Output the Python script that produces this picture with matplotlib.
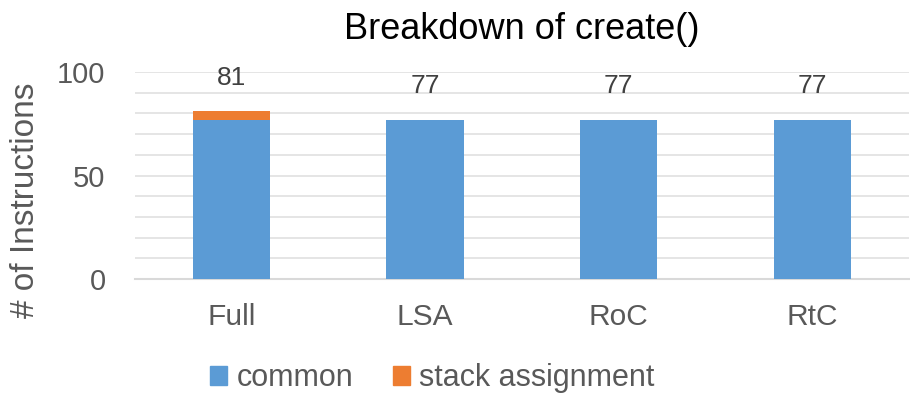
import matplotlib
matplotlib.use("Agg")
import matplotlib.pyplot as plt
from matplotlib.patches import Patch

# per-variant instruction counts for create()
variants = ["Full", "LSA", "RoC", "RtC"]
common = [77, 77, 77, 77]
stack_assignment = [4, 0, 0, 0]

blue = "#5B9BD5"
orange = "#ED7D31"
grey_text = "#595959"

plt.rcParams["font.family"] = ["Liberation Sans", "DejaVu Sans"]

fig = plt.figure(figsize=(9.1, 3.94), dpi=100)
ax = fig.add_axes([0.148, 0.292, 0.851, 0.525])

x = range(len(variants))
ax.bar(x, common, width=0.4, color=blue, zorder=3)
ax.bar(x, stack_assignment, width=0.4, bottom=common, color=orange, zorder=3)

totals = [c + s for c, s in zip(common, stack_assignment)]
for i, t in enumerate(totals):
    ax.annotate(str(t), (i, t), xytext=(0, 24), textcoords="offset points",
                ha="center", va="center", fontsize=19, color="#404040",
                annotation_clip=False)

ax.set_xlim(-0.5, len(variants) - 0.5)
ax.set_ylim(0, 100)
ax.set_yticks([0, 50, 100])
ax.set_yticks(range(0, 101, 10), minor=True)
ax.grid(axis="y", which="both", color="#E3E3E3", linewidth=1.3, zorder=0)
ax.set_xticks(list(x))
ax.set_xticklabels(variants)
ax.tick_params(axis="both", which="both", length=0, colors=grey_text)
ax.tick_params(axis="x", labelsize=21.5, pad=17)
ax.tick_params(axis="y", labelsize=21, pad=21)
for side in ["top", "right", "left"]:
    ax.spines[side].set_visible(False)
ax.spines["bottom"].set_color("#D9D9D9")
ax.spines["bottom"].set_linewidth(1.5)

# axis title sits a little below the plot centre
fig.text(26 / 910, 1 - 200 / 394, "# of Instructions", rotation=90,
         ha="center", va="center", fontsize=24, color=grey_text)
ax.set_title("Breakdown of create()", fontsize=26, pad=24)

handles = [Patch(color=blue, label="common"), Patch(color=orange, label="stack assignment")]
fig.legend(handles=handles, loc="center", bbox_to_anchor=(0.475, 0.04), ncol=2,
           frameon=False, fontsize=22, handlelength=0.55, handleheight=0.55,
           handletextpad=0.3, columnspacing=1.3, labelcolor=grey_text)

fig.savefig("out.png", dpi=100)
